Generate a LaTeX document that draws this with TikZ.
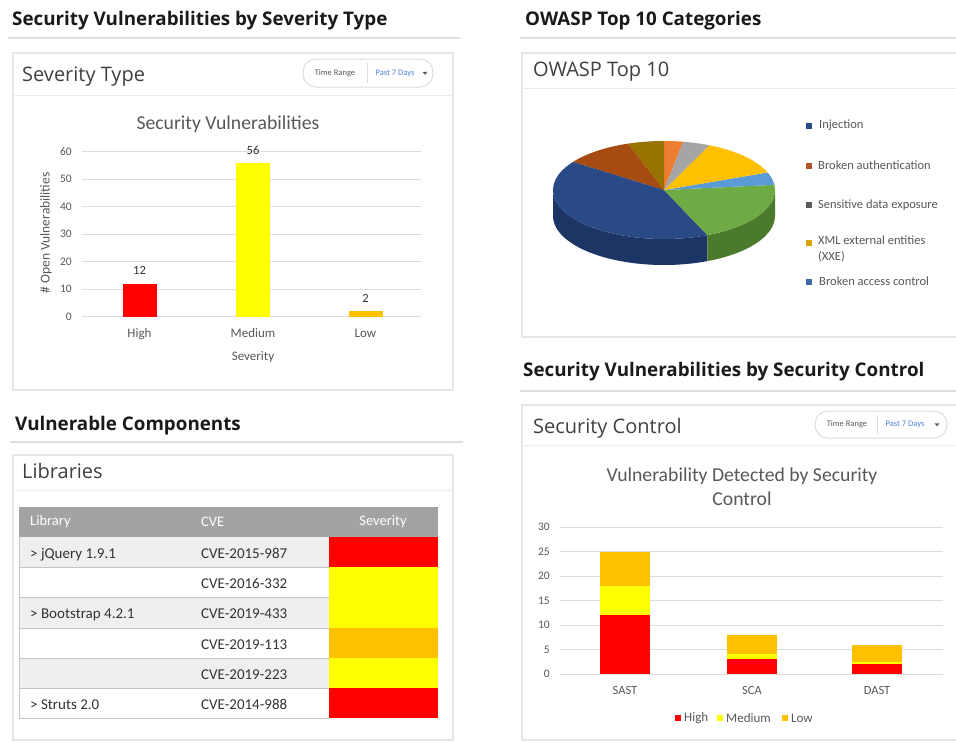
\documentclass[tikz,border=0pt]{standalone}
\usepackage{fontspec}
\setmainfont{Carlito}
\newfontfamily\headfont{Open Sans}
\newcommand\setfs[1]{\fontsize{#1}{#1}\selectfont}
\definecolor{headtxt}{HTML}{1A1A1A}
\definecolor{titletxt}{HTML}{404040}
\definecolor{rulegray}{HTML}{DEDEDE}
\definecolor{panelgray}{HTML}{E6E6E6}
\definecolor{sepgray}{HTML}{EBEBEB}
\definecolor{gridgray}{HTML}{DCDCDC}
\definecolor{axistxt}{HTML}{595959}
\definecolor{celltxt}{HTML}{333333}
\definecolor{pillgray}{HTML}{DDDDDD}
\definecolor{linkblue}{HTML}{4F83D6}
\definecolor{barred}{HTML}{FF0000}
\definecolor{baryellow}{HTML}{FFFF00}
\definecolor{barorange}{HTML}{FFC000}
\definecolor{thead}{HTML}{A3A3A3}
\definecolor{trow}{HTML}{EFEFEF}
\definecolor{tline}{HTML}{C4C4C4}
\definecolor{pOrange}{HTML}{ED7D31}
\definecolor{pOlive}{HTML}{997300}
\definecolor{pDOrange}{HTML}{A64B12}
\definecolor{pDBlue}{HTML}{2A4A85}
\definecolor{pDBlueSide}{HTML}{1D3564}
\definecolor{pGreen}{HTML}{6FAB45}
\definecolor{pGreenSide}{HTML}{4B7A2D}
\definecolor{pLBlue}{HTML}{5B9BD5}
\definecolor{pGold}{HTML}{FFC000}
\definecolor{pGray}{HTML}{A5A5A5}
\definecolor{lInj}{HTML}{2A4A85}
\definecolor{lAuth}{HTML}{B5562A}
\definecolor{lSens}{HTML}{5A5A5A}
\definecolor{lXml}{HTML}{D9A300}
\definecolor{lAcc}{HTML}{3F6AA8}
\begin{document}
\begin{tikzpicture}[x=1pt,y=-1pt,
 heading/.style={anchor=base west,inner sep=0pt,font=\headfont\bfseries\setfs{18.8},text=headtxt},
 ptitle/.style={anchor=base west,inner sep=0pt,font=\headfont\setfs{20},text=titletxt},
 hrule/.style={draw=rulegray,line width=2pt},
 panel/.style={draw=panelgray,line width=1.2pt,fill=white},
 sepline/.style={draw=sepgray,line width=1pt},
 gridl/.style={draw=gridgray,line width=0.8pt},
 tick/.style={anchor=east,inner sep=0pt,font=\setfs{11.5},text=axistxt},
 catl/.style={inner sep=0pt,font=\setfs{13},text=axistxt},
 vall/.style={inner sep=0pt,font=\setfs{12.5},text=celltxt},
 ctitle/.style={anchor=base,inner sep=0pt,font=\setfs{19.7},text=axistxt},
 cell/.style={anchor=base west,inner sep=0pt,font=\setfs{15},text=celltxt},
 hcell/.style={inner sep=0pt,font=\setfs{14.5},text=white},
 pill/.style={draw=pillgray,line width=1pt,fill=white,rounded corners=13pt},
 pilltxt/.style={inner sep=0pt,font=\setfs{8.5},text=axistxt},
 pilllink/.style={inner sep=0pt,font=\setfs{8.5},text=linkblue},
 legtxt/.style={anchor=west,inner sep=0pt,font=\setfs{12.5},text=axistxt,align=left},
 legtxtb/.style={anchor=west,inner sep=0pt,font=\setfs{13},text=axistxt},
]
\useasboundingbox (0,0) rectangle (956,742);
\fill[white] (0,0) rectangle (956,742);
\clip (0,0) rectangle (956,742);

% ---------- headings ----------
\node[heading] (h1) at (12,25) {Security Vulnerabilities by Severity Type};
\draw[hrule] (8,38) -- (460,38);
\node[heading] (h2) at (525,25) {OWASP Top 10 Categories};
\draw[hrule] (520,38) -- (960,38);
\node[heading] (h3) at (15,430) {Vulnerable Components};
\draw[hrule] (10,441.5) -- (463,441.5);
\node[heading] (h4) at (523,376.5) {Security Vulnerabilities by Security Control};
\draw[hrule] (520,391) -- (960,391);

% ---------- panel 1: severity type ----------
\draw[panel] (13,53) rectangle (453,390);
\node[ptitle] (p1t) at (22,81.5) {Severity Type};
\draw[sepline] (13,95) -- (453,95);
\draw[pill] (303,59) rectangle (433,87);
\draw[draw=pillgray] (367,63) -- (367,83);
\node[pilltxt] (p1a) at (335,73) {Time Range};
\node[pilllink] (p1b) at (395,73) {Past 7 Days};
\fill[axistxt] (422.5,71.8) -- (427.5,71.8) -- (425,74.8) -- cycle;

\node[ctitle] (c1t) at (228,129) {Security Vulnerabilities};
\foreach \v in {0,10,...,60}{
  \draw[gridl] (82,{316.7-2.75*\v}) -- (421,{316.7-2.75*\v});
  \node[tick] (c1y\v) at (72,{316.7-2.75*\v}) {\v};
}
\fill[barred] (122.5,{316.7-2.75*12}) rectangle (156.5,316.7);
\fill[baryellow] (236,{316.7-2.75*56}) rectangle (270,316.7);
\fill[barorange] (348.5,{316.7-2.75*2}) rectangle (382.5,316.7);
\node[vall] (c1v1) at (139.5,270) {12};
\node[vall] (c1v2) at (253,150) {56};
\node[vall] (c1v3) at (365.5,298) {2};
\node[catl,anchor=base] (c1x1) at (139.5,337.5) {High};
\node[catl,anchor=base] (c1x2) at (253,337.5) {Medium};
\node[catl,anchor=base] (c1x3) at (365.5,337.5) {Low};
\node[catl,anchor=base] (c1xt) at (253,360) {Severity};
\node[catl,rotate=90,font=\setfs{13.5}] (c1yt) at (46,233) {\# Open Vulnerabilities};

% ---------- panel 2: libraries ----------
\draw[panel] (13,455) rectangle (453,740);
\node[ptitle] (p2t) at (22,478.5) {Libraries};
\draw[sepline] (13,490) -- (453,490);
\fill[thead] (19,507) rectangle (438,537);
\node[hcell,anchor=west] (th1) at (30,522) {Library};
\node[hcell,anchor=west] (th2) at (201,522) {CVE};
\node[hcell] (th3) at (383,522) {Severity};
% rows
\fill[trow] (19,537) rectangle (329,567);
\fill[trow] (19,597.5) rectangle (329,628);
\fill[trow] (19,658) rectangle (329,688);
\fill[barred] (329,537) rectangle (438,567);
\fill[baryellow] (329,567) rectangle (438,597.5);
\fill[baryellow] (329,597.5) rectangle (438,628);
\fill[barorange] (329,628) rectangle (438,658);
\fill[baryellow] (329,658) rectangle (438,688);
\fill[barred] (329,688) rectangle (438,718);
\foreach \yy in {567,597.5,628,658,688}{
  \draw[tline,line width=1pt] (19,\yy) -- (329,\yy);
}
\draw[tline,line width=1pt] (19,537) -- (19,718) -- (329,718);
\node[cell] (r1a) at (30,558) {> jQuery 1.9.1};
\node[cell] (r1b) at (201,558) {CVE-2015-987};
\node[cell] (r2b) at (201,588) {CVE-2016-332};
\node[cell] (r3a) at (30,618.5) {> Bootstrap 4.2.1};
\node[cell] (r3b) at (201,618.5) {CVE-2019-433};
\node[cell] (r4b) at (201,649) {CVE-2019-113};
\node[cell] (r5b) at (201,679) {CVE-2019-223};
\node[cell] (r6a) at (30,709) {> Struts 2.0};
\node[cell] (r6b) at (201,709) {CVE-2014-988};

% ---------- panel 3: OWASP ----------
\draw[panel] (522,53) rectangle (970,337);
\node[ptitle] (p3t) at (533,76) {OWASP Top 10};
\draw[sepline] (522,88) -- (970,88);
\begin{scope}[shift={(664,190)},yscale=-1]
  % side
  \fill[pDBlueSide] (180:111 and 49) arc[start angle=180,end angle=293,x radius=111,y radius=49]
     -- ++(0,-26) arc[start angle=293,end angle=180,x radius=111,y radius=49] -- cycle;
  \fill[pGreenSide] (293:111 and 49) arc[start angle=293,end angle=360,x radius=111,y radius=49]
     -- ++(0,-26) arc[start angle=360,end angle=293,x radius=111,y radius=49] -- cycle;
  % top
  \fill[pOrange] (0,0) -- (80:111 and 49) arc[start angle=80,end angle=90,x radius=111,y radius=49] -- cycle;
  \fill[pOlive] (0,0) -- (90:111 and 49) arc[start angle=90,end angle=109,x radius=111,y radius=49] -- cycle;
  \fill[pDOrange] (0,0) -- (109:111 and 49) arc[start angle=109,end angle=145,x radius=111,y radius=49] -- cycle;
  \fill[pDBlue] (0,0) -- (145:111 and 49) arc[start angle=145,end angle=293,x radius=111,y radius=49] -- cycle;
  \fill[pGreen] (0,0) -- (293:111 and 49) arc[start angle=293,end angle=366,x radius=111,y radius=49] -- cycle;
  \fill[pLBlue] (0,0) -- (6:111 and 49) arc[start angle=6,end angle=21,x radius=111,y radius=49] -- cycle;
  \fill[pGold] (0,0) -- (21:111 and 49) arc[start angle=21,end angle=66,x radius=111,y radius=49] -- cycle;
  \fill[pGray] (0,0) -- (66:111 and 49) arc[start angle=66,end angle=80,x radius=111,y radius=49] -- cycle;
\end{scope}
\fill[lInj] (806,122.7) rectangle (812,128.7);
\node[legtxt] (l1) at (819,125.7) {Injection};
\fill[lAuth] (806,162.7) rectangle (812,168.7);
\node[legtxt] (l2) at (818,165.7) {Broken authentication};
\fill[lSens] (806,202) rectangle (812,208);
\node[legtxt] (l3) at (818,205) {Sensitive data exposure};
\fill[lXml] (806,239.7) rectangle (812,245.7);
\node[legtxt,anchor=north west,font=\fontsize{12.5}{16.6}\selectfont] (l4) at (818,235.5) {XML external entities\\(XXE)};
\fill[lAcc] (806,278.7) rectangle (812,284.7);
\node[legtxt] (l5) at (819,281.7) {Broken access control};

% ---------- panel 4: security control ----------
\draw[panel] (522,405) rectangle (970,740);
\node[ptitle] (p4t) at (533,433.5) {Security Control};
\draw[sepline] (522,445) -- (970,445);
\draw[pill] (815,411) rectangle (947,438);
\draw[draw=pillgray] (877,415) -- (877,434);
\node[pilltxt] (p4a) at (847,424.5) {Time Range};
\node[pilllink] (p4b) at (905,424.5) {Past 7 Days};
\fill[axistxt] (934.5,423.3) -- (939.5,423.3) -- (937,426.3) -- cycle;

\node[ctitle] (c2t1) at (742,481.5) {Vulnerability Detected by Security};
\node[ctitle] (c2t2) at (742,505) {Control};
\foreach \v in {0,5,...,30}{
  \draw[gridl] (560,{674-4.89*\v}) -- (943,{674-4.89*\v});
  \node[tick] (c2y\v) at (550,{674-4.89*\v}) {\v};
}
% SAST
\fill[barred] (600,{674-4.89*12}) rectangle (650,674);
\fill[baryellow] (600,{674-4.89*18}) rectangle (650,{674-4.89*12});
\fill[barorange] (600,{674-4.89*25}) rectangle (650,{674-4.89*18});
% SCA
\fill[barred] (727,{674-4.89*3}) rectangle (777,674);
\fill[baryellow] (727,{674-4.89*4}) rectangle (777,{674-4.89*3});
\fill[barorange] (727,{674-4.89*8}) rectangle (777,{674-4.89*4});
% DAST
\fill[barred] (852,{674-4.89*2}) rectangle (902,674);
\fill[baryellow] (852,{674-4.89*2.5}) rectangle (902,{674-4.89*2});
\fill[barorange] (852,{674-4.89*6}) rectangle (902,{674-4.89*2.5});
\node[catl,font=\setfs{12.5}] (c2x1) at (625,690.5) {SAST};
\node[catl,font=\setfs{12.5}] (c2x2) at (752,690.5) {SCA};
\node[catl,font=\setfs{12.5}] (c2x3) at (877,690.5) {DAST};
\fill[barred] (675,715) rectangle (681,721);
\node[legtxtb] (g1) at (684,718) {High};
\fill[baryellow] (717,715) rectangle (723,721);
\node[legtxtb] (g2) at (726,718) {Medium};
\fill[barorange] (782,715) rectangle (788,721);
\node[legtxtb] (g3) at (791,718) {Low};
\end{tikzpicture}
\end{document}
